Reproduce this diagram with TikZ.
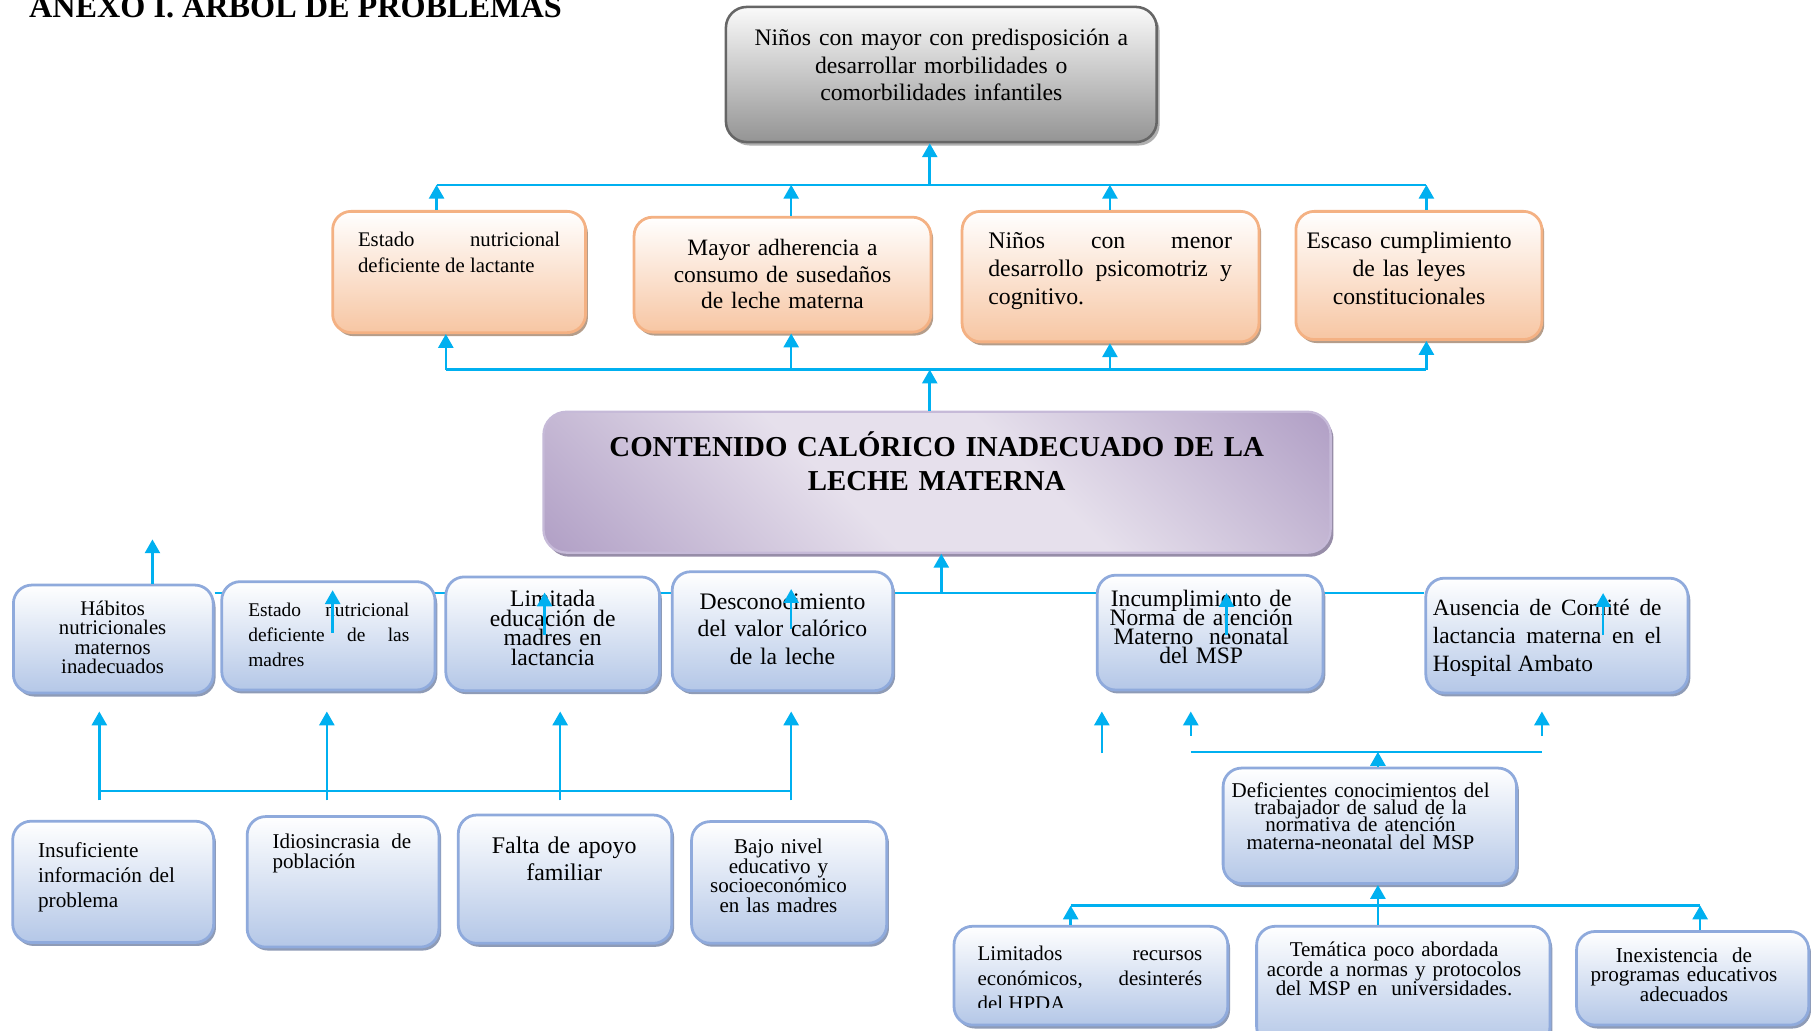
\documentclass[tikz,border=0pt]{standalone}
\usepackage{fontspec}
\setmainfont{Liberation Serif}
\usetikzlibrary{arrows.meta,shadows}

\pgfdeclarelayer{background}
\pgfsetlayers{background,main}

% palette
\definecolor{flow}{HTML}{00B0F0}
\definecolor{bluerim}{HTML}{8FAADC}
\definecolor{bluelow}{HTML}{B4C7E7}
\definecolor{blueshade}{HTML}{8E9BB6}
\definecolor{orangerim}{HTML}{F4B183}
\definecolor{orangelow}{HTML}{F7C6A3}
\definecolor{orangeshade}{HTML}{B59D8A}
\definecolor{grayrim}{HTML}{666666}
\definecolor{graytop}{HTML}{FAFAFA}
\definecolor{graylow}{HTML}{949494}
\definecolor{grayshade}{HTML}{B0B0B0}
\definecolor{purpledark}{HTML}{B3A2C7}
\definecolor{purplelight}{HTML}{E6E0EC}
\definecolor{purplerim}{HTML}{C6BAD8}
\definecolor{purpleshade}{HTML}{978DA8}

% diagonal lilac fill: dark corners, light middle
\pgfdeclarehorizontalshading{lilac}{100bp}{color(0bp)=(purpledark); color(16bp)=(purpledark); color(42bp)=(purplelight); color(58bp)=(purplelight); color(84bp)=(purpledark); color(100bp)=(purpledark)}

% font size / fixed line spacing for box texts
\newcommand{\boxfont}[2]{\fontsize{#1}{#2}\selectfont\lineskiplimit=-100pt\relax\tolerance=10000\relax\hbadness=10000\relax\hyphenpenalty=10000\relax}

\tikzset{
  size/.style 2 args={minimum width=#1pt, minimum height=#2pt},
  panel/.style={rectangle, rounded corners=16pt, line width=2.4pt, inner sep=0pt},
  causebox/.style={panel, draw=bluerim, top color=white, bottom color=bluelow,
    drop shadow={shadow xshift=2pt, shadow yshift=-3pt, fill=blueshade, opacity=1}},
  effectbox/.style={panel, draw=orangerim, top color=white, bottom color=orangelow,
    drop shadow={shadow xshift=2pt, shadow yshift=-3pt, fill=orangeshade, opacity=1}},
  endbox/.style={panel, rounded corners=18pt, draw=grayrim, line width=2.2pt, top color=graytop, bottom color=graylow,
    drop shadow={shadow xshift=2.5pt, shadow yshift=-3pt, fill=grayshade, opacity=1}},
  corebox/.style={panel, rounded corners=20pt, draw=purplerim, line width=2pt, shading=lilac, shading angle=45,
    drop shadow={shadow xshift=2.5pt, shadow yshift=-3.5pt, fill=purpleshade, opacity=1}},
  words/.style={anchor=base, inner sep=0pt, text=black},
  mid/.style={words, align=center},
  just/.style={words, align=justify},
  flush/.style={words, align=left},
  link/.style={draw=flow, line width=2.2pt},
  thinlink/.style={draw=flow, line width=1.3pt},
  rise/.style={link, -{Triangle[length=12pt,width=13pt]}},
}

\begin{document}
\begin{tikzpicture}[x=1pt,y=-1pt]
\useasboundingbox (0,0) rectangle (1568,892);
\begin{pgfonlayer}{background}
  \fill[white] (0,0) rectangle (1568,892);
\end{pgfonlayer}

% heading
\node[anchor=base west, inner sep=0pt, font=\bfseries\boxfont{27.9}{30}] (title) at (25,15) {ANEXO I. ÁRBOL DE PROBLEMAS};

% ---------- boxes ----------
\node[endbox, size={373}{117}] (top) at (815,64.5) {};

\node[effectbox, size={219}{105}] (e1) at (397.5,235.5) {};
\node[effectbox, size={257}{99.5}] (e2) at (677.5,237.8) {};
\node[effectbox, size={257}{113}] (e3) at (961.5,239.5) {};
\node[effectbox, size={213}{111}] (e4) at (1228.5,238.5) {};

\node[corebox, size={681.5}{122}] (core) at (811.3,417.5) {};

\node[causebox, size={173}{93.5}] (c1) at (98.1,553.3) {};
\node[causebox, size={184.6}{93.8}] (c2) at (284.3,550.5) {};
\node[causebox, size={185}{98.5}] (c3) at (478.5,548.75) {};
\node[causebox, size={191}{103}] (c4) at (677.5,546.5) {};
\node[causebox, size={195.5}{99.4}] (c5) at (1047.75,547.7) {};
\node[causebox, size={227}{99.4}] (c6) at (1348,550.3) {};

\node[causebox, size={174}{105}] (d1) at (98,763.5) {};
\node[causebox, size={166}{113}] (d2) at (297,763.5) {};
\node[causebox, size={184.8}{111.1}] (d3) at (489.2,761.2) {};
\node[causebox, size={168.9}{105.3}] (d4) at (683.25,764) {};

\node[causebox, size={254}{100}] (def) at (1186,715) {};
\node[causebox, size={237}{85.5}] (l1) at (944.5,844.75) {};
\node[causebox, size={254}{103}] (l2) at (1215,853.5) {};
\node[causebox, size={201}{81}] (l3) at (1465.5,847) {};

% ---------- texts ----------
\node[mid, text width=360pt, font=\boxfont{20.5}{23.8}] (topt) at (815,39.5)
  {Niños con mayor con predisposición a\\desarrollar morbilidades o\\comorbilidades infantiles};

\node[just, text width=175pt, font=\boxfont{18}{22.5}] (e1t) at (397.5,213)
  {Estado nutricional\linebreak deficiente de lactante};
\node[mid, text width=240pt, font=\boxfont{20.3}{23.2}] (e2t) at (677.5,221)
  {Mayor adherencia a\\consumo de susedaños\\de leche materna};
\node[just, text width=211pt, font=\boxfont{20.6}{24}] (e3t) at (961.2,215.5)
  {Niños con menor\linebreak desarrollo psicomotriz y\linebreak cognitivo.};
\node[mid, text width=200pt, font=\boxfont{20.5}{24}] (e4t) at (1220,215.5)
  {Escaso cumplimiento\\de las leyes\\constitucionales};

\node[mid, text width=640pt, font=\bfseries\boxfont{25}{29.6}] (coret) at (811,395.5)
  {CONTENIDO CALÓRICO INADECUADO DE LA\\LECHE MATERNA};

\node[mid, text width=160pt, font=\boxfont{18}{17}] (c1t) at (97.5,532.5)
  {Hábitos\\nutricionales\\maternos\\inadecuados};
\node[just, text width=139.4pt, font=\boxfont{16.8}{21.8}] (c2t) at (284.7,533.5)
  {Estado nutricional\linebreak deficiente de las\linebreak madres};
\node[mid, text width=170pt, font=\boxfont{20.4}{16.9}] (c3t) at (478.5,525.5)
  {Limitada\\educación de\\madres en\\lactancia};
\node[mid, text width=180pt, font=\boxfont{20.5}{23.7}] (c4t) at (677.5,527.5)
  {Desconocimiento\\del valor calórico\\de la leche};
\node[mid, text width=185pt, font=\boxfont{20.4}{16.4}] (c5t) at (1040,525.5)
  {Incumplimiento de\\Norma de atención\\Materno\ \ neonatal\\del MSP};
\node[just, text width=198pt, font=\boxfont{20.2}{24.2}] (c6t) at (1339.6,533)
  {Ausencia de Comité de\linebreak lactancia materna en el\linebreak Hospital Ambato};

\node[flush, text width=150pt, font=\boxfont{18.4}{21.7}] (d1t) at (108,742)
  {Insuficiente\\información del\\problema};
\node[just, text width=120pt, font=\boxfont{18.2}{17.8}] (d2t) at (296,734.5)
  {Idiosincrasia de\linebreak población};
\node[mid, text width=175pt, font=\boxfont{20.7}{23.2}] (d3t) at (488.5,739)
  {Falta de apoyo\\familiar};
\node[mid, text width=160pt, font=\boxfont{18.2}{16.9}] (d4t) at (674,739)
  {Bajo nivel\\educativo y\\socioeconómico\\en las madres};

\node[mid, text width=240pt, font=\boxfont{18.2}{14.9}] (deft) at (1178,690.5)
  {Deficientes conocimientos del\\trabajador de salud de la\\normativa de atención\\materna-neonatal del MSP};
\begin{scope}
  \clip (826,790) rectangle (1063,872.5);
  \node[just, text width=194.5pt, font=\boxfont{18.1}{21.6}] (l1t) at (943.75,831.5)
    {Limitados recursos\linebreak económicos, desinterés\linebreak del HPDA};
\end{scope}
\node[mid, text width=240pt, font=\boxfont{18.2}{16.8}] (l2t) at (1207,828.5)
  {Temática poco abordada\\acorde a normas y protocolos\\del MSP en\ \ universidades.};
\node[mid, text width=190pt, font=\boxfont{18.3}{17.2}] (l3t) at (1458,833)
  {Inexistencia\ \ de\\programas educativos\\adecuados};

% ---------- connectors ----------
% upper bus between effects and the final consequence
\coordinate (ub1) at (378,160);
\coordinate (ub2) at (685,160);
\coordinate (ub3) at (961,160);
\coordinate (ub4) at (1235,160);
\coordinate (ubc) at (805,160);
\draw[thinlink] (ub1) -- (ub4);
\draw[rise] (ubc) -- (ubc |- top.south);
\draw[rise] (ub1 |- e1.north) -- (ub1);
\draw[rise] (ub2 |- e2.north) -- (ub2);
\draw[rise] (ub3 |- e3.north) -- (ub3);
\draw[rise] (ub4 |- e4.north) -- (ub4);

% lower bus between the central problem and its effects
\coordinate (lb1) at (386,320);
\coordinate (lb2) at (685,320);
\coordinate (lb3) at (961,320);
\coordinate (lb4) at (1235,320);
\coordinate (lbc) at (805,320);
\draw[link] (lb1) -- (lb4);
\draw[rise] (lb1) -- (lb1 |- e1.south);
\draw[rise] (lb2) -- (lb2 |- e2.south);
\draw[rise] (lb3) -- (lb3 |- e3.south);
\draw[rise] (lb4) -- (lb4 |- e4.south);
\draw[rise] (lbc |- core.north) -- (lbc);

% bus behind the direct causes
\coordinate (mbc) at (815,513.5);
\begin{pgfonlayer}{background}
  \draw[thinlink] (c1.east |- mbc) -- (c6.west |- mbc);
\end{pgfonlayer}
\draw[rise] (mbc) -- (mbc |- core.south);

\coordinate (hab) at (132,467);
\draw[rise] (hab |- c1.north) -- (hab);

% short arrows over the direct causes
\coordinate (ia1s) at (288,548);    \coordinate (ia1e) at (288,511);
\coordinate (ia2s) at (471.5,550);  \coordinate (ia2e) at (471.5,513);
\coordinate (ia3s) at (685,545);    \coordinate (ia3e) at (685,510);
\coordinate (ia4s) at (1062,550);   \coordinate (ia4e) at (1062,513.5);
\coordinate (ia5s) at (1388,550);   \coordinate (ia5e) at (1388,513.5);
\draw[rise] (ia1s) -- (ia1e);
\draw[rise] (ia2s) -- (ia2e);
\draw[rise] (ia3s) -- (ia3e);
\draw[rise] (ia4s) -- (ia4e);
\draw[rise] (ia5s) -- (ia5e);

% bus above the root causes (left)
\coordinate (bl1) at (86,685);
\coordinate (bl2) at (283,685);
\coordinate (bl3) at (485,685);
\coordinate (bl4) at (685,685);
\coordinate (blt1) at (86,616);
\coordinate (blt2) at (283,616);
\coordinate (blt3) at (485,616);
\coordinate (blt4) at (685,616);
\draw[link] (bl1) -- (bl4);
\draw[rise] ([yshift=-8pt]bl1) -- (blt1);
\draw[rise] ([yshift=-8pt]bl2) -- (blt2);
\draw[rise] ([yshift=-8pt]bl3) -- (blt3);
\draw[rise] ([yshift=-8pt]bl4) -- (blt4);

% right branch
\coordinate (r0b) at (954,652);  \coordinate (r0t) at (954,616);
\coordinate (r1b) at (1031,637); \coordinate (r1t) at (1031,616);
\coordinate (r2b) at (1335,637); \coordinate (r2t) at (1335,616);
\coordinate (rb1) at (1031,651);
\coordinate (rb2) at (1335,651);
\coordinate (rbc) at (1193,651);
\draw[rise] (r0b) -- (r0t);
\draw[rise] (r1b) -- (r1t);
\draw[rise] (r2b) -- (r2t);
\draw[link] (rb1) -- (rb2);
\draw[rise] (rbc |- def.north) -- (rbc);

\coordinate (lr1) at (927,784);
\coordinate (lr2) at (1472,784);
\coordinate (lrc) at (1193,784);
\draw[link] (lr1) -- (lr2);
\draw[rise] (lr1 |- l1.north) -- (lr1);
\draw[rise] (lr2 |- l3.north) -- (lr2);
\draw[rise] (lrc |- l2.north) -- (lrc |- def.south);
\end{tikzpicture}
\end{document}
